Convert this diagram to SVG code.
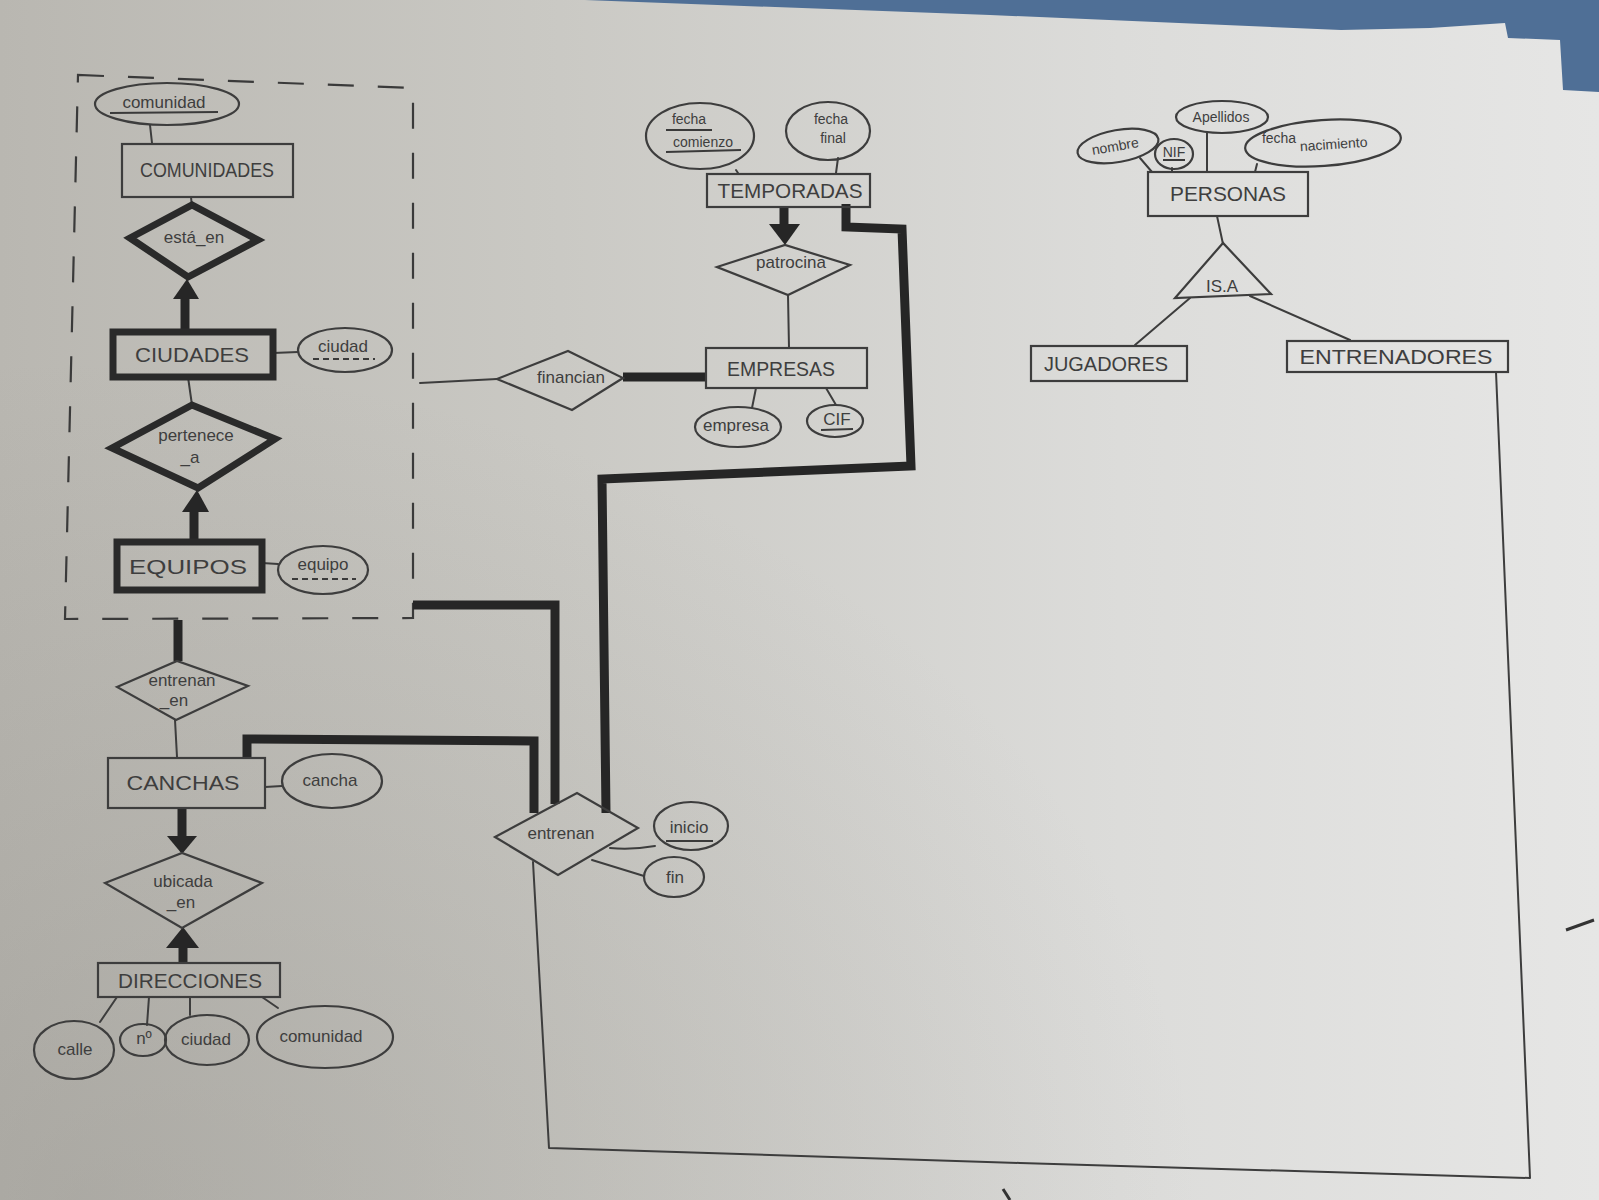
<svg xmlns="http://www.w3.org/2000/svg" width="1599" height="1200" viewBox="0 0 1599 1200">
<defs>
<linearGradient id="paper" x1="0" y1="0" x2="1" y2="0">
<stop offset="0" stop-color="#b9b7b1"/>
<stop offset="0.35" stop-color="#cac9c4"/>
<stop offset="0.7" stop-color="#dcdcda"/>
<stop offset="1" stop-color="#e6e6e5"/>
</linearGradient>
<radialGradient id="shade" cx="0.05" cy="1" r="0.7">
<stop offset="0" stop-color="#8e8c86" stop-opacity="0.35"/>
<stop offset="1" stop-color="#8e8c86" stop-opacity="0"/>
</radialGradient>
<style>
.thin{fill:none;stroke:#3d3d3d;stroke-width:2;stroke-linecap:round;stroke-linejoin:round}
.thick{fill:none;stroke:#262626;stroke-width:9;stroke-linejoin:miter}
.shape{fill:none;stroke:#3d3d3d;stroke-width:2.2}
.bold{fill:none;stroke:#2a2a2a;stroke-width:7}
.head{fill:#262626;stroke:none}
.dash{fill:none;stroke:#3a3a3a;stroke-width:2.2;stroke-dasharray:26 24}
text{font-family:"Liberation Sans","DejaVu Sans",sans-serif;fill:#3e3e3e;text-anchor:middle}
.ent{font-size:21px}
.att{font-size:17px}
.sm{font-size:14px}
.ul{stroke:#3a3a3a;stroke-width:2;fill:none}
.dul{stroke:#3a3a3a;stroke-width:2;fill:none;stroke-dasharray:6 4}
</style>
</defs>

<rect x="0" y="0" width="1599" height="1200" fill="url(#paper)"/>
<rect x="0" y="0" width="1599" height="1200" fill="url(#shade)"/>
<polygon points="585,0 1599,0 1599,92 1563,90 1560,40 1508,38 1505,23 1430,28 1341,30 990,15" fill="#4f6f96"/>
<path d="M1566,930 L1594,920" stroke="#333" stroke-width="3" fill="none"/>
<path d="M1003,1189 L1010,1200" stroke="#333" stroke-width="3" fill="none"/>

<g id="aggregation">
<path class="dash" d="M78,75 L413,88 L413,618 L65,619 Z"/>
</g>

<g id="connectors">
<!-- thin attribute links -->
<path class="thin" d="M150,125 L152,143"/>
<path class="thin" d="M191,197 L192,207"/>
<path class="thin" d="M273,353 L298,352"/>
<path class="thin" d="M188,377 L192,405"/>
<path class="thin" d="M262,563 L278,564"/>
<path class="thin" d="M175,720 L177,757"/>
<path class="thin" d="M265,787 L282,786"/>
<path class="thin" d="M117,997 L100,1022"/>
<path class="thin" d="M149,997 L147,1025"/>
<path class="thin" d="M190,997 L190,1015"/>
<path class="thin" d="M262,997 L278,1008"/>
<path class="thin" d="M420,383 L497,379"/>
<path class="thin" d="M736,170 L738,173"/>
<path class="thin" d="M838,158 L836,173"/>
<path class="thin" d="M788,295 L789,348"/>
<path class="thin" d="M756,388 L752,408"/>
<path class="thin" d="M826,388 L836,405"/>
<path class="thin" d="M610,848 Q632,850 655,846"/>
<path class="thin" d="M592,860 L644,876"/>
<path class="thin" d="M533,862 L549,1148 L1020,1163 L1530,1178 L1496,372"/>
<path class="thin" d="M1140,158 L1152,172"/>
<path class="thin" d="M1172,168 L1172,172"/>
<path class="thin" d="M1207,132 L1207,172"/>
<path class="thin" d="M1257,164 L1255,172"/>
<path class="thin" d="M1217,216 L1223,244"/>
<path class="thin" d="M1190,298 L1135,345"/>
<path class="thin" d="M1250,296 L1350,340"/>
<!-- thick participation lines -->
<path class="thick" d="M185,298 L185,332"/>
<polygon class="head" points="187,279 173,299 199,299"/>
<path class="thick" d="M194,510 L194,542"/>
<polygon class="head" points="197,490 182,512 209,512"/>
<path class="thick" d="M178,620 L178,661"/>
<path class="thick" d="M182,808 L182,838"/>
<polygon class="head" points="167,836 197,836 182,854"/>
<path class="thick" d="M183,946 L183,963"/>
<polygon class="head" points="183,927 166,948 199,948"/>
<path class="thick" d="M784,206 L784,226"/>
<polygon class="head" points="769,224 800,224 785,245"/>
<path class="thick" d="M623,377 L706,377"/>
<path class="thick" d="M413,605 L555,605 L555,804"/>
<path class="thick" d="M247,758 L247,739 L534,741 L534,813"/>
<path class="thick" d="M846,204 L846,227 L902,229 L911,466 L602,479 L606,813"/>
</g>

<g id="comunidad_attr"><ellipse class="shape" cx="167" cy="104" rx="72" ry="21"/><text class="att" x="164" y="108">comunidad</text><path class="ul" d="M110,113 L218,112"/></g>
<g id="COMUNIDADES"><rect class="shape" x="122" y="144" width="171" height="53"/><text class="ent" x="207" y="177" textLength="134" lengthAdjust="spacingAndGlyphs">COMUNIDADES</text></g>
<g id="esta_en"><polygon class="bold" points="130,238 192,205 258,240 188,277"/><text class="att" x="194" y="243">está_en</text></g>
<g id="CIUDADES"><rect class="bold" x="113" y="332" width="160" height="45"/><text class="ent" x="192" y="362" textLength="114" lengthAdjust="spacingAndGlyphs">CIUDADES</text></g>
<g id="ciudad_attr"><ellipse class="shape" cx="345" cy="350" rx="47" ry="22"/><text class="att" x="343" y="352">ciudad</text><path class="dul" d="M313,359 L375,359"/></g>
<g id="pertenece_a"><polygon class="bold" points="112,448 192,405 275,439 198,488"/><text class="att" x="196" y="441">pertenece</text><text class="att" x="190" y="463">_a</text></g>
<g id="EQUIPOS"><rect class="bold" x="117" y="542" width="145" height="48"/><text class="ent" x="188" y="574" textLength="118" lengthAdjust="spacingAndGlyphs">EQUIPOS</text></g>
<g id="equipo_attr"><ellipse class="shape" cx="323" cy="570" rx="45" ry="24"/><text class="att" x="323" y="570">equipo</text><path class="dul" d="M292,579 L356,579"/></g>

<g id="entrenan_en"><polygon class="shape" points="117,687 177,661 248,686 176,720"/><text class="att" x="182" y="686">entrenan</text><text class="att" x="174" y="706">_en</text></g>
<g id="CANCHAS"><rect class="shape" x="108" y="758" width="157" height="50"/><text class="ent" x="183" y="790" textLength="113" lengthAdjust="spacingAndGlyphs">CANCHAS</text></g>
<g id="cancha_attr"><ellipse class="shape" cx="332" cy="781" rx="50" ry="27"/><text class="att" x="330" y="786">cancha</text></g>
<g id="ubicada_en"><polygon class="shape" points="105,883 182,853 262,883 182,928"/><text class="att" x="183" y="887">ubicada</text><text class="att" x="181" y="908">_en</text></g>
<g id="DIRECCIONES"><rect class="shape" x="98" y="963" width="182" height="34"/><text class="ent" x="190" y="988" textLength="144" lengthAdjust="spacingAndGlyphs">DIRECCIONES</text></g>
<g id="calle"><ellipse class="shape" cx="74" cy="1050" rx="40" ry="29"/><text class="att" x="75" y="1055">calle</text></g>
<g id="num"><ellipse class="shape" cx="143" cy="1040" rx="23" ry="16"/><text class="att" x="144" y="1044">nº</text></g>
<g id="ciudad_dir"><ellipse class="shape" cx="207" cy="1040" rx="42" ry="25"/><text class="att" x="206" y="1045">ciudad</text></g>
<g id="comunidad_dir"><ellipse class="shape" cx="325" cy="1037" rx="68" ry="31"/><text class="att" x="321" y="1042">comunidad</text></g>

<g id="financian"><polygon class="shape" points="497,379 568,351 623,378 572,410"/><text class="att" x="571" y="383">financian</text></g>
<g id="EMPRESAS"><rect class="shape" x="706" y="348" width="161" height="40"/><text class="ent" x="781" y="376" textLength="108" lengthAdjust="spacingAndGlyphs">EMPRESAS</text></g>
<g id="empresa_attr"><ellipse class="shape" cx="738" cy="427" rx="43" ry="20"/><text class="att" x="736" y="431">empresa</text></g>
<g id="CIF_attr"><ellipse class="shape" cx="835" cy="421" rx="28" ry="16"/><text class="att" x="837" y="425">CIF</text><path class="ul" d="M821,430 L853,429"/></g>
<g id="patrocina"><polygon class="shape" points="717,267 785,245 850,265 788,295"/><text class="att" x="791" y="268">patrocina</text></g>
<g id="TEMPORADAS"><rect class="shape" x="707" y="174" width="163" height="33"/><text class="ent" x="790" y="198" textLength="145" lengthAdjust="spacingAndGlyphs">TEMPORADAS</text></g>
<g id="fecha_comienzo"><ellipse class="shape" cx="700" cy="136" rx="54" ry="33"/><text class="sm" x="689" y="124">fecha</text><path class="ul" d="M666,130 L712,130"/><text class="sm" x="703" y="147">comienzo</text><path class="ul" d="M666,152 L741,150"/></g>
<g id="fecha_final"><ellipse class="shape" cx="828" cy="131" rx="42" ry="29"/><text class="sm" x="831" y="124">fecha</text><text class="sm" x="833" y="143">final</text></g>
<g id="entrenan"><polygon class="shape" points="495,837 577,793 638,828 558,875"/><text class="att" x="561" y="839">entrenan</text></g>
<g id="inicio_attr"><ellipse class="shape" cx="691" cy="826" rx="37" ry="24"/><text class="att" x="689" y="833">inicio</text><path class="ul" d="M666,841 L713,841"/></g>
<g id="fin_attr"><ellipse class="shape" cx="674" cy="877" rx="30" ry="20"/><text class="att" x="675" y="883">fin</text></g>

<g id="PERSONAS"><rect class="shape" x="1148" y="172" width="160" height="44"/><text class="ent" x="1228" y="201" textLength="116" lengthAdjust="spacingAndGlyphs">PERSONAS</text></g>
<g id="nombre_attr"><ellipse class="shape" cx="1118" cy="146" rx="41" ry="16" transform="rotate(-10 1118 146)"/><text class="sm" x="1116" y="151" transform="rotate(-10 1116 151)">nombre</text></g>
<g id="NIF_attr"><ellipse class="shape" cx="1174" cy="154" rx="19" ry="15"/><text class="sm" x="1174" y="157" font-size="12">NIF</text><path class="ul" d="M1163,160 L1185,160"/></g>
<g id="apellidos_attr"><ellipse class="shape" cx="1222" cy="117" rx="46" ry="16"/><text class="sm" x="1221" y="122">Apellidos</text></g>
<g id="fecha_nacimiento"><ellipse class="shape" cx="1323" cy="143" rx="78" ry="23" transform="rotate(-4 1323 143)"/><text class="sm" x="1279" y="143">fecha</text><text class="sm" x="1334" y="149" transform="rotate(-4 1334 149)">nacimiento</text></g>
<g id="ISA"><polygon class="shape" points="1223,243 1175,298 1271,294"/><text class="att" x="1222" y="292">IS.A</text></g>
<g id="JUGADORES"><rect class="shape" x="1031" y="346" width="156" height="35"/><text class="ent" x="1106" y="371" textLength="124" lengthAdjust="spacingAndGlyphs">JUGADORES</text></g>
<g id="ENTRENADORES"><rect class="shape" x="1287" y="341" width="221" height="31"/><text class="ent" x="1396" y="364" textLength="193" lengthAdjust="spacingAndGlyphs">ENTRENADORES</text></g>
</svg>
